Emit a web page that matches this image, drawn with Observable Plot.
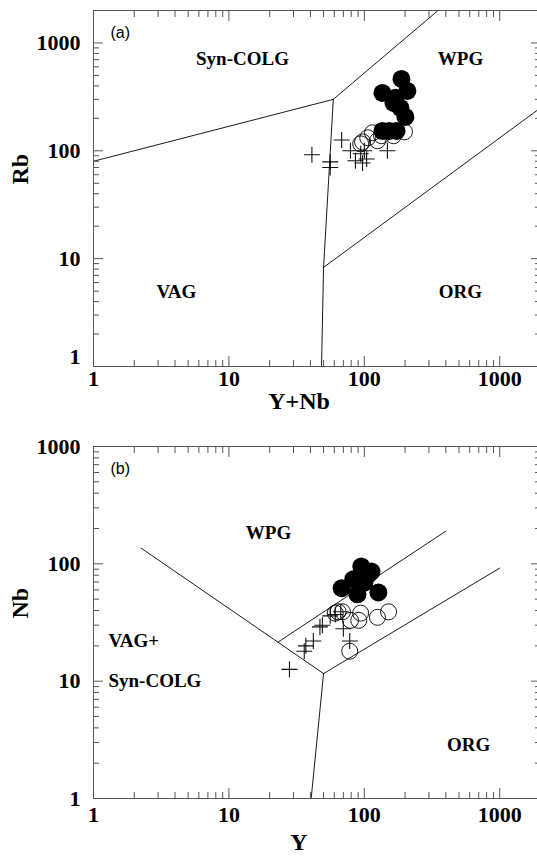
<!DOCTYPE html>
<html><head><meta charset="utf-8">
<script src="https://cdn.jsdelivr.net/npm/d3@7"></script>
<script src="https://cdn.jsdelivr.net/npm/@observablehq/plot@0.6"></script>
<style>
html,body{margin:0;padding:0;background:#fff;overflow:hidden;width:537px;height:856px}
#chart{width:540px;overflow:visible}
#chart svg{display:block;max-width:none !important;width:540px;height:auto}
</style></head><body><div id="chart"></div>
<script>
// ---------- Panel (a): Rb vs Y+Nb ----------
const aFilledX = [188, 208, 136, 170, 164, 185, 201, 136, 153, 173];
const aFilledY = [464, 359, 344, 310, 278, 250, 206, 153, 153, 153];
const aOpenX = [198, 164, 134, 115, 106, 97, 125, 94];
const aOpenY = [150, 138, 138, 147, 132, 121, 124, 116];
const aPlusX = [41, 56, 56, 68, 79, 86, 94, 100, 104, 97, 148];
const aPlusY = [92, 79, 70, 126, 100, 81, 94, 100, 84, 77, 100];
const aBoundA_X = [1, 59, 350], aBoundA_Y = [80, 300, 2000];
const aBoundB_X = [59, 50, 48.3], aBoundB_Y = [300, 8.3, 1];
const aBoundC_X = [50, 2000], aBoundC_Y = [8.3, 250];
const aRegion = ["Syn-COLG", "WPG", "VAG", "ORG"];
const aRegionX = [12.6, 513, 4.1, 513];
const aRegionY = [711, 711, 4.95, 4.95];

// ---------- Panel (b): Nb vs Y ----------
const bFilledX = [95, 113, 83, 68, 100, 89, 127, 106];
const bFilledY = [95, 86, 74, 62, 69, 55, 57, 80];
const bOpenX = [64, 69, 94, 91, 79, 125, 151, 78, 61];
const bOpenY = [39, 39, 38, 33, 33, 35, 39, 18, 38];
const bPlusX = [28, 36, 37, 42, 47, 49, 56, 61, 67, 70, 78];
const bPlusY = [12.6, 18, 20, 22, 29, 30, 36, 37, 39, 28, 22];
const bBoundA_X = [2.25, 23, 50], bBoundA_Y = [136, 21.5, 11.6];
const bBoundB_X = [50, 40.5], bBoundB_Y = [11.6, 1];
const bBoundC_X = [23, 400], bBoundC_Y = [21.5, 190];
const bBoundD_X = [50, 1000], bBoundD_Y = [11.6, 92];
const bRegion = ["WPG", "ORG"];
const bRegionX = [19.6, 589];
const bRegionY = [185, 2.89];
const bRegionLeft = ["VAG+", "Syn-COLG"];
const bRegionLeftX = [1.29, 1.29];
const bRegionLeftY = [22.2, 10.1];

// ---------- ticks ----------
const majorTicks = [1, 10, 100, 1000];
const majorLabels = ["1", "10", "100", "1000"];
const minorTicks = [2,3,4,5,6,7,8,9,20,30,40,50,60,70,80,90,200,300,400,500,600,700,800,900,2000];

const pts = (xs, ys) => xs.map((x, i) => ({x, y: ys[i]}));
const lines = (...segs) => segs.flatMap(([xs, ys], id) => xs.map((x, i) => ({x, y: ys[i], id})));

const serif = "'Liberation Serif','Times New Roman',serif";
const sans = "'Liberation Sans',Arial,sans-serif";

function panel(o) {
  const tickStyle = {stroke: "#555", strokeWidth: 1, tickFormat: () => "", label: null};
  const ymax = o.ydom[1];
  const yMinor = minorTicks.filter(d => d <= ymax);
  const lab = {fontFamily: serif, fontWeight: "bold", fill: "black"};
  return Plot.plot({
    width: 540, height: o.height,
    marginLeft: 93, marginRight: 0, marginTop: o.mt, marginBottom: o.mb,
    x: {type: "log", domain: [1, 2000], axis: null},
    y: {type: "log", domain: o.ydom, axis: null},
    style: {fontFamily: serif, background: "white", overflow: "visible"},
    marks: [
      Plot.line(o.lines, {x: "x", y: "y", z: "id", stroke: "black", strokeWidth: 0.9}),
      Plot.dot(o.open, {x: "x", y: "y", r: 8, stroke: "black", strokeWidth: 0.9, fill: "none"}),
      Plot.dot(o.plus, {x: "x", y: "y", symbol: "plus", r: 5.2, stroke: "#111", strokeWidth: 1.1}),
      Plot.dot(o.filled, {x: "x", y: "y", r: 9, fill: "black"}),
      Plot.axisX(majorTicks, {anchor: "bottom", tickSize: -10, ...tickStyle}),
      Plot.axisX(minorTicks, {anchor: "bottom", tickSize: -6, ...tickStyle}),
      Plot.axisX(majorTicks, {anchor: "top", tickSize: -10, ...tickStyle}),
      Plot.axisX(minorTicks, {anchor: "top", tickSize: -6, ...tickStyle}),
      Plot.axisY(majorTicks.filter(d => d <= ymax), {anchor: "left", tickSize: -10, ...tickStyle}),
      Plot.axisY(yMinor, {anchor: "left", tickSize: -6, ...tickStyle}),
      Plot.axisY(majorTicks.filter(d => d <= ymax), {anchor: "right", tickSize: -10, ...tickStyle}),
      Plot.axisY(yMinor, {anchor: "right", tickSize: -6, ...tickStyle}),
      Plot.frame({stroke: "#555", strokeWidth: 1}),
      // tick labels
      Plot.text(majorTicks, {x: d => d, frameAnchor: "bottom", dy: o.xLabDy, text: (d, i) => majorLabels[i], fontSize: 22, ...lab}),
      Plot.text(majorTicks.slice(1).filter(d => d <= ymax), {y: d => d, frameAnchor: "left", dx: -13, textAnchor: "end", text: d => majorLabels[majorTicks.indexOf(d)], fontSize: 22, ...lab}),
      Plot.text([1], {y: d => d, frameAnchor: "left", dx: -13, dy: o.y1Dy, textAnchor: "end", text: ["1"], fontSize: 22, ...lab}),
      // axis titles
      Plot.text([o.xTitle], {frameAnchor: "bottom", dx: -18, dy: o.xTitleDy, text: d => d, fontSize: 24, ...lab}),
      Plot.text([o.yTitle], {frameAnchor: "left", dx: -73, dy: -4, rotate: -90, text: d => d, fontSize: 24, ...lab}),
      // region labels
      Plot.text(o.regions, {x: "x", y: "y", text: "t", fontSize: 19, ...lab}),
      Plot.text(o.regionsLeft || [], {x: "x", y: "y", text: "t", textAnchor: "start", fontSize: 19, ...lab}),
      // panel tag
      Plot.text([o.tag], {frameAnchor: "top-left", dx: 17, dy: 16, text: d => d, fontSize: 16, fontFamily: sans, fill: "black"})
    ]
  });
}

const regionsOf = (t, xs, ys) => t.map((s, i) => ({t: s, x: xs[i], y: ys[i]}));

const chartA = panel({
  height: 420, mt: 10, mb: 54, ydom: [1, 2000],
  lines: lines([aBoundA_X, aBoundA_Y], [aBoundB_X, aBoundB_Y], [aBoundC_X, aBoundC_Y]),
  filled: pts(aFilledX, aFilledY), open: pts(aOpenX, aOpenY), plus: pts(aPlusX, aPlusY),
  regions: regionsOf(aRegion, aRegionX, aRegionY),
  xLabDy: 19, y1Dy: -10, xTitle: "Y+Nb", xTitleDy: 42, yTitle: "Rb", tag: "(a)"
});
const chartB = panel({
  height: 436, mt: 26, mb: 58, ydom: [1, 1000],
  lines: lines([bBoundA_X, bBoundA_Y], [bBoundB_X, bBoundB_Y], [bBoundC_X, bBoundC_Y], [bBoundD_X, bBoundD_Y]),
  filled: pts(bFilledX, bFilledY), open: pts(bOpenX, bOpenY), plus: pts(bPlusX, bPlusY),
  regions: regionsOf(bRegion, bRegionX, bRegionY),
  regionsLeft: regionsOf(bRegionLeft, bRegionLeftX, bRegionLeftY),
  xLabDy: 23, y1Dy: 0, xTitle: "Y", xTitleDy: 51, yTitle: "Nb", tag: "(b)"
});
document.getElementById("chart").append(chartA, chartB);
</script></body></html>
